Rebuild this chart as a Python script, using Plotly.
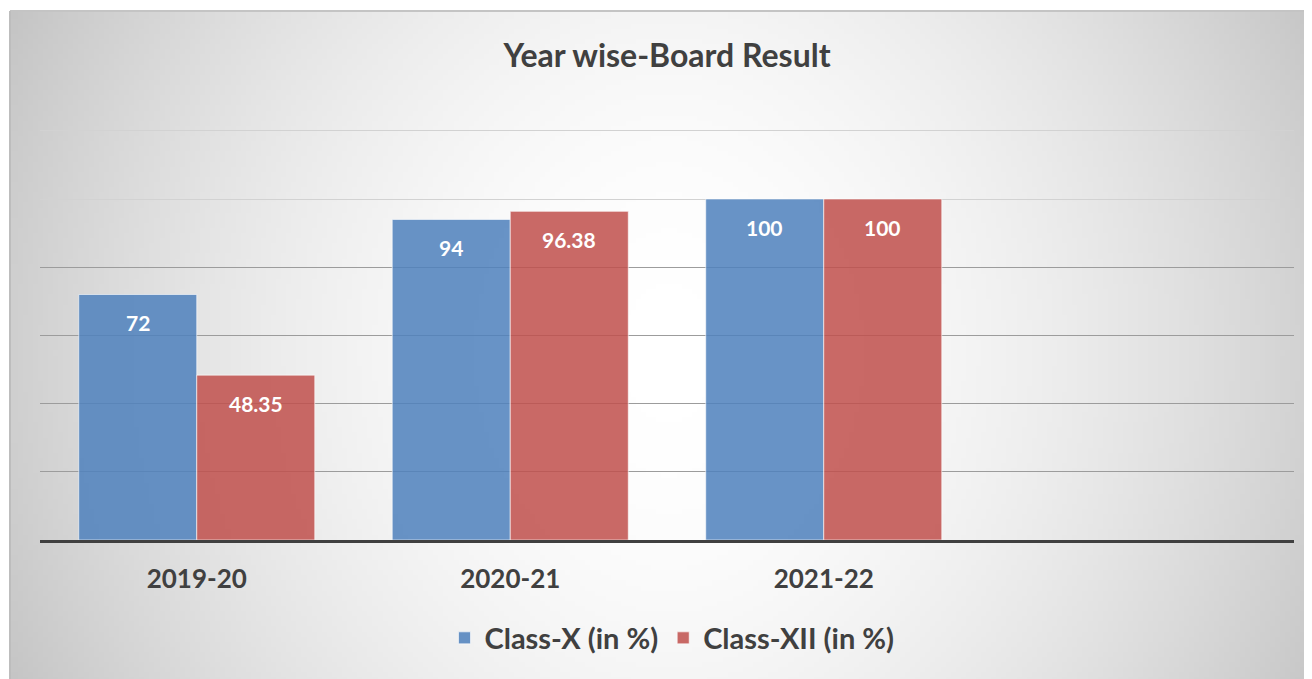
"""Year wise board result - grouped bar chart (Excel style) rebuilt with Plotly."""
import base64
import struct
import zlib

import plotly.graph_objects as go

# ---------------------------------------------------------------------------
# data
# ---------------------------------------------------------------------------
years = ["2019-20", "2020-21", "2021-22"]
class_x = [72, 94, 100]
class_xii = [48.35, 96.38, 100]
series_names = ["Class-X (in %)", "Class-XII (in %)"]

# ---------------------------------------------------------------------------
# layout constants (pixels, as measured on the page; the page body adds 8px)
# ---------------------------------------------------------------------------
W, H = 1312, 679
OFF = 8
FRAME_L, FRAME_T = 10 - OFF, 11 - OFF
PLOT_L, PLOT_R = 40 - OFF, 1294 - OFF
PLOT_B, PLOT_T = 540 - OFF, 124 - OFF
N_SLOTS = 4  # excel leaves one empty category on the right
BARGAP = 0.247

TEXT = "#404040"
FONT = "Lato"
BLUE = "rgba(79,129,189,0.86)"
RED = "rgba(192,80,77,0.86)"


def gradient_png(w, h):
    """Grey-to-white path gradient used as the chart area fill."""
    raw = bytearray()
    for j in range(h):
        raw.append(0)
        v = abs((j + 0.5) / h * 2 - 1)
        for i in range(w):
            u = abs((i + 0.5) / w * 2 - 1)
            drop = 48 * u ** 1.8 + 11 * v ** 2
            raw.append(max(0, min(255, int(round(255 - drop)))))

    def chunk(tag, data):
        c = struct.pack(">I", len(data)) + tag + data
        return c + struct.pack(">I", zlib.crc32(tag + data) & 0xFFFFFFFF)

    png = b"\x89PNG\r\n\x1a\n"
    png += chunk(b"IHDR", struct.pack(">IIBBBBB", w, h, 8, 0, 0, 0, 0))
    png += chunk(b"IDAT", zlib.compress(bytes(raw), 9))
    png += chunk(b"IEND", b"")
    return "data:image/png;base64," + base64.b64encode(png).decode()


fig = go.Figure()
for name, vals, col in zip(series_names, [class_x, class_xii], [BLUE, RED]):
    fig.add_trace(
        go.Bar(
            x=years,
            y=vals,
            name=name,
            marker=dict(color=col, line=dict(color="rgba(255,255,255,0.6)", width=1)),
            hoverinfo="x+y+name",
        )
    )

# data labels inside the top of each bar
slot_px = (PLOT_R - PLOT_L) / N_SLOTS
bar_px = slot_px * (1 - BARGAP) / 2
for k, vals in enumerate([class_x, class_xii]):
    for yr, v in zip(years, vals):
        fig.add_annotation(
            x=yr, y=v, text=f"{v:g}", showarrow=False,
            xshift=(k - 0.5) * bar_px, yshift=-28, yanchor="middle",
            font=dict(family=FONT, size=21, color="white", weight="bold"),
        )

fig.update_layout(
    width=W,
    height=H,
    margin=dict(l=0, r=0, t=0, b=0),
    paper_bgcolor="white",
    plot_bgcolor="rgba(0,0,0,0)",
    barmode="group",
    bargap=BARGAP,
    bargroupgap=0,
    font=dict(family=FONT, color=TEXT),
    title=dict(
        text="Year wise-Board Result",
        x=(667 - OFF) / W, y=1 - (56 - OFF) / H, xanchor="center", yanchor="middle",
        xref="paper", yref="paper",
        font=dict(family=FONT, size=32, color=TEXT, weight="bold"),
    ),
    legend=dict(
        orientation="h",
        x=(672 - OFF) / W, y=1 - (638 - OFF) / H, xanchor="center", yanchor="middle",
        font=dict(family=FONT, size=29, color=TEXT, weight="bold"),
        bgcolor="rgba(0,0,0,0)",
    ),
    xaxis=dict(
        domain=[PLOT_L / W, PLOT_R / W],
        type="category",
        categoryorder="array",
        categoryarray=years,
        range=[-0.5, N_SLOTS - 0.5],
        showline=True, linecolor=TEXT, linewidth=3,
        showgrid=False, ticks="", ticklabelstandoff=14,
        tickfont=dict(family=FONT, size=26, color=TEXT, weight="bold"),
        fixedrange=True,
    ),
    yaxis=dict(
        domain=[1 - PLOT_B / H, 1 - PLOT_T / H],
        range=[0, 122],
        tickvals=[0, 20, 40, 60, 80],
        showticklabels=False,
        showgrid=True, gridcolor="#9c9c9c", gridwidth=1,
        zeroline=False, showline=False,
        minor=dict(tickvals=[100, 120], showgrid=True, gridcolor="#d2d2d2", gridwidth=1),
        fixedrange=True,
    ),
    images=[
        dict(
            source=gradient_png(260, 134),
            xref="paper", yref="paper",
            x=FRAME_L / W, y=1 - FRAME_T / H,
            sizex=(W + OFF - FRAME_L) / W, sizey=(H + OFF - FRAME_T) / H,
            xanchor="left", yanchor="top",
            sizing="stretch", layer="below",
        )
    ],
    shapes=[
        dict(type="line", xref="paper", yref="paper",
             x0=FRAME_L / W, x1=1, y0=1 - FRAME_T / H, y1=1 - FRAME_T / H,
             line=dict(color="#c4c4c4", width=2)),
        dict(type="line", xref="paper", yref="paper",
             x0=FRAME_L / W, x1=FRAME_L / W, y0=0, y1=1 - FRAME_T / H,
             line=dict(color="#bdbdbd", width=2)),
    ],
)

fig.write_html("out.html")
